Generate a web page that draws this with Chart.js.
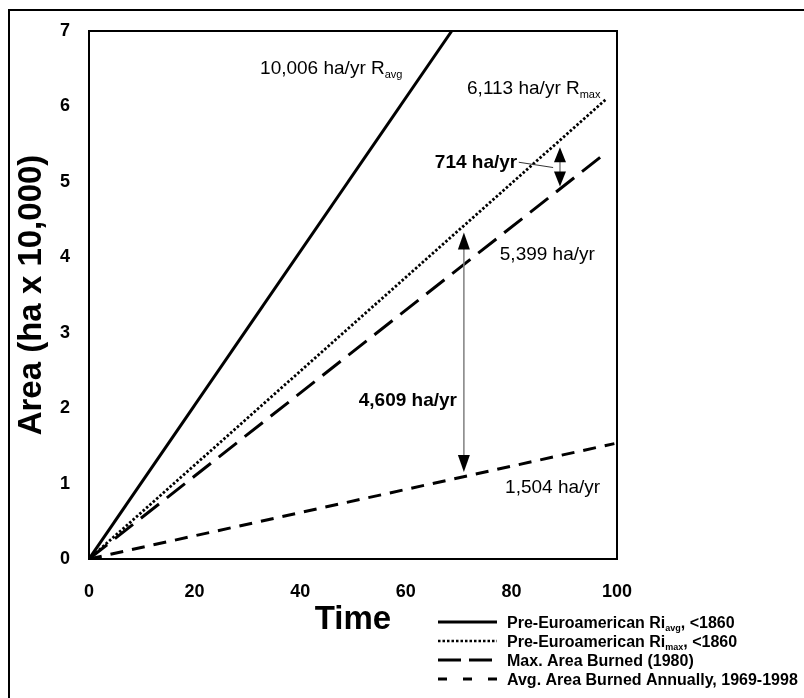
<!DOCTYPE html>
<html>
<head>
<meta charset="utf-8">
<title>Area burned</title>
<script src="https://cdn.jsdelivr.net/npm/chart.js@4.4.0/dist/chart.umd.min.js"></script>
<style>
  html, body { margin: 0; padding: 0; background: #fff; }
  #wrap { width: 804px; height: 698px; }
</style>
</head>
<body>
<div id="wrap"><canvas id="areaChart" width="804" height="698"></canvas></div>
<script>
// values
const timeTicks = [0, 20, 40, 60, 80, 100];
const areaTicks = [0, 1, 2, 3, 4, 5, 6, 7];

const riAvgTime = [0, 68.7];
const riAvgArea = [0, 7];
const riMaxTime = [0, 98];
const riMaxArea = [0, 6.1];
const maxBurnTime = [0, 98];
const maxBurnArea = [0, 5.39];
const avgBurnTime = [0, 99.5];
const avgBurnArea = [0, 1.53];

const FONT = '"Liberation Sans", Arial, Helvetica, sans-serif';

function toPoints(xs, ys) {
    return xs.map((x, i) => ({ x: x, y: ys[i] }));
}

// text notes on the plot: [text, isSubscript] parts, placed in data units (baseline)
const notes = [
    { parts: [['10,006 ha/yr R'], ['avg', true]], x: 32.4, y: 6.43, bold: false, align: 'left' },
    { parts: [['6,113 ha/yr R'], ['max', true]], x: 71.6, y: 6.16, bold: false, align: 'left' },
    { parts: [['714 ha/yr']], x: 81.1, y: 5.18, bold: true, align: 'right' },
    { parts: [['5,399 ha/yr']], x: 77.8, y: 3.97, bold: false, align: 'left' },
    { parts: [['4,609 ha/yr']], x: 69.7, y: 2.03, bold: true, align: 'right' },
    { parts: [['1,504 ha/yr']], x: 78.8, y: 0.88, bold: false, align: 'left' }
];

// double headed arrows between lines
const arrows = [
    { x: 89.2, low: 4.94, high: 5.46, headLen: 15, headW: 12 },
    { x: 71.0, low: 1.155, high: 4.33, headLen: 17, headW: 12 }
];

// legend entries
const legendRows = [
    { parts: [['Pre-Euroamerican Ri'], ['avg', true], [', <1860']], dash: [], width: 3 },
    { parts: [['Pre-Euroamerican Ri'], ['max', true], [', <1860']], dash: [2.5, 2], width: 2.5 },
    { parts: [['Max. Area Burned (1980)']], dash: [23, 8], width: 3 },
    { parts: [['Avg. Area Burned Annually, 1969-1998']], dash: [9, 16], width: 3 }
];

function drawParts(ctx, parts, x, y, size, bold, align, subDrop) {
    const subSize = Math.round(size * 0.58);
    const weight = bold ? 'bold' : 'normal';
    const widths = parts.map(p => {
        ctx.font = weight + ' ' + (p[1] ? subSize : size) + 'px ' + FONT;
        return ctx.measureText(p[0]).width;
    });
    const total = widths.reduce((a, b) => a + b, 0);
    let cx = align === 'right' ? x - total : x;
    parts.forEach((p, i) => {
        ctx.font = weight + ' ' + (p[1] ? subSize : size) + 'px ' + FONT;
        ctx.fillText(p[0], cx, p[1] ? y + subDrop : y);
        cx += widths[i];
    });
}

function drawArrow(ctx, x, yTop, yBot, headLen, headW) {
    ctx.strokeStyle = '#808080';
    ctx.lineWidth = 1.5;
    ctx.setLineDash([]);
    ctx.beginPath();
    ctx.moveTo(x, yTop + headLen - 1);
    ctx.lineTo(x, yBot - headLen + 1);
    ctx.stroke();
    ctx.fillStyle = '#000';
    ctx.beginPath();
    ctx.moveTo(x, yTop);
    ctx.lineTo(x - headW / 2, yTop + headLen);
    ctx.lineTo(x + headW / 2, yTop + headLen);
    ctx.closePath();
    ctx.fill();
    ctx.beginPath();
    ctx.moveTo(x, yBot);
    ctx.lineTo(x - headW / 2, yBot - headLen);
    ctx.lineTo(x + headW / 2, yBot - headLen);
    ctx.closePath();
    ctx.fill();
}

const overlayPlugin = {
    id: 'overlay',
    beforeDraw(chart) {
        const ctx = chart.ctx;
        ctx.save();
        ctx.fillStyle = '#fff';
        ctx.fillRect(0, 0, chart.width, chart.height);
        ctx.restore();
    },
    afterDraw(chart) {
        const ctx = chart.ctx;
        const xs = chart.scales.x;
        const ys = chart.scales.y;
        const area = chart.chartArea;
        ctx.save();

        // outer frame (left and top edges visible)
        ctx.strokeStyle = '#000';
        ctx.lineWidth = 2;
        ctx.strokeRect(9, 10, 820, 720);

        // plot frame
        ctx.strokeRect(area.left, area.top, area.right - area.left, area.bottom - area.top);

        // leader line for 714 label
        ctx.strokeStyle = '#333';
        ctx.lineWidth = 1;
        ctx.beginPath();
        ctx.moveTo(xs.getPixelForValue(81.4), ys.getPixelForValue(5.26));
        ctx.lineTo(xs.getPixelForValue(87.9), ys.getPixelForValue(5.19));
        ctx.stroke();

        arrows.forEach(a => {
            drawArrow(ctx, xs.getPixelForValue(a.x), ys.getPixelForValue(a.high),
                ys.getPixelForValue(a.low), a.headLen, a.headW);
        });

        ctx.fillStyle = '#000';
        ctx.textBaseline = 'alphabetic';
        notes.forEach(n => {
            drawParts(ctx, n.parts, xs.getPixelForValue(n.x), ys.getPixelForValue(n.y),
                19, n.bold, n.align, 4);
        });

        // legend
        legendRows.forEach((row, i) => {
            const base = 628 + i * 19;
            ctx.strokeStyle = '#000';
            ctx.lineWidth = row.width;
            ctx.setLineDash(row.dash);
            ctx.beginPath();
            ctx.moveTo(438, base - 6);
            ctx.lineTo(497, base - 6);
            ctx.stroke();
            ctx.setLineDash([]);
            ctx.fillStyle = '#000';
            drawParts(ctx, row.parts, 507, base, 16, true, 'left', 3);
        });
        ctx.restore();
    }
};

function lineSet(label, xs, ys, dash, width) {
    return {
        label: label,
        data: toPoints(xs, ys),
        borderColor: '#000',
        borderWidth: width,
        borderDash: dash,
        borderCapStyle: 'butt',
        pointRadius: 0,
        tension: 0,
        fill: false
    };
}

function initAreaChart() {
    const ctx = document.getElementById('areaChart').getContext('2d');
    new Chart(ctx, {
        type: 'line',
        data: {
            datasets: [
                lineSet('Pre-Euroamerican Ri avg, <1860', riAvgTime, riAvgArea, [], 3),
                lineSet('Pre-Euroamerican Ri max, <1860', riMaxTime, riMaxArea, [2.5, 2], 2.8),
                lineSet('Max. Area Burned (1980)', maxBurnTime, maxBurnArea, [23, 10], 3),
                lineSet('Avg. Area Burned Annually, 1969-1998', avgBurnTime, avgBurnArea, [13, 9], 3)
            ]
        },
        options: {
            responsive: false,
            animation: false,
            devicePixelRatio: 1,
            layout: { padding: { left: 0, right: 187, top: 31, bottom: 0 } },
            plugins: {
                legend: { display: false },
                tooltip: { enabled: false }
            },
            scales: {
                x: {
                    type: 'linear',
                    min: 0,
                    max: 100,
                    afterBuildTicks: s => { s.ticks = timeTicks.map(v => ({ value: v })); },
                    afterFit: s => { s.height = 139; },
                    grid: { display: false, drawTicks: false },
                    border: { display: false },
                    ticks: {
                        padding: 22,
                        color: '#000',
                        font: { family: FONT, size: 18, weight: 'bold' }
                    },
                    title: {
                        display: true,
                        text: 'Time',
                        color: '#000',
                        padding: { top: 0, bottom: 58 },
                        font: { family: FONT, size: 33, weight: 'bold' }
                    }
                },
                y: {
                    min: 0,
                    max: 7,
                    afterBuildTicks: s => { s.ticks = areaTicks.map(v => ({ value: v })); },
                    afterFit: s => { s.width = 89; },
                    grid: { display: false, drawTicks: false },
                    border: { display: false },
                    ticks: {
                        padding: 19,
                        color: '#000',
                        font: { family: FONT, size: 18, weight: 'bold' }
                    },
                    title: {
                        display: true,
                        text: 'Area (ha x 10,000)',
                        color: '#000',
                        padding: { top: 12, bottom: 0 },
                        font: { family: FONT, size: 33, weight: 'bold' }
                    }
                }
            }
        },
        plugins: [overlayPlugin]
    });
}

document.addEventListener('DOMContentLoaded', initAreaChart);
</script>
</body>
</html>
